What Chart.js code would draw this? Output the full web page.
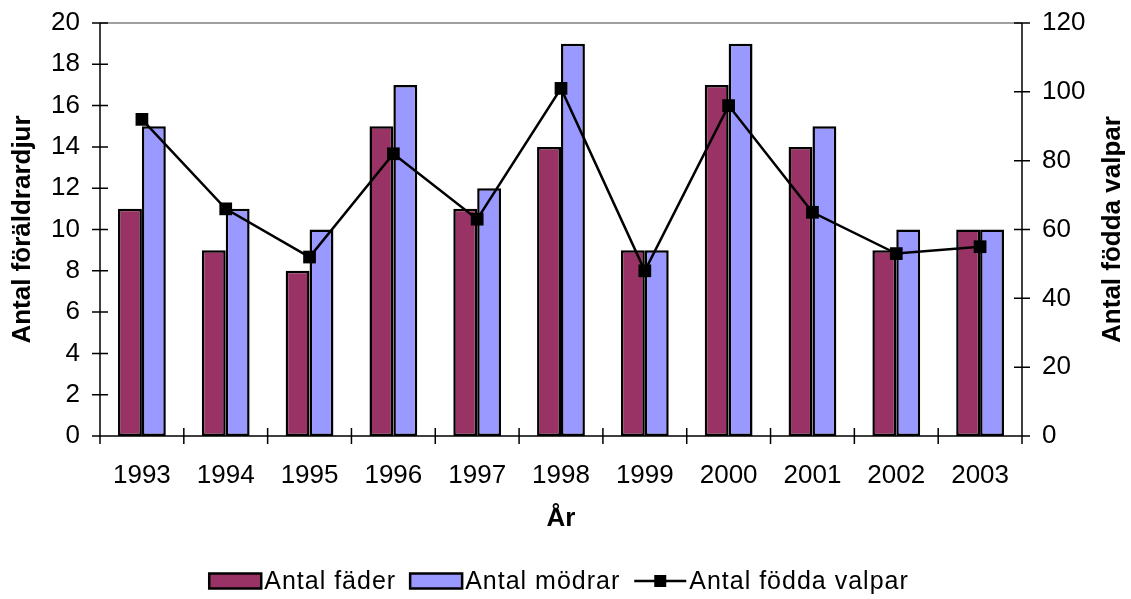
<!DOCTYPE html>
<html>
<head>
<meta charset="utf-8">
<script src="https://cdn.jsdelivr.net/npm/chart.js@4/dist/chart.umd.min.js"></script>
<style>
  html, body { margin: 0; padding: 0; background: #fff; }
  canvas { display: block; }
</style>
</head>
<body>
<canvas id="chart" width="1131" height="599"></canvas>
<script>
const years = ["1993", "1994", "1995", "1996", "1997", "1998", "1999", "2000", "2001", "2002", "2003"];
const fathers = [11, 9, 8, 15, 11, 14, 9, 17, 14, 9, 10];
const mothers = [15, 11, 10, 17, 12, 19, 9, 19, 15, 10, 10];
const puppies = [92, 66, 52, 82, 63, 101, 48, 96, 65, 53, 55];

const FONT = "'Liberation Sans', Arial, sans-serif";
const rightTitle = "Antal födda valpar";

// axis lines, crossing tick marks, right title and legend like the old office chart
const axisFrame = {
  id: "axisFrame",
  beforeDatasetsDraw(chart) {
    const { ctx, chartArea: a } = chart;
    ctx.save();
    ctx.lineWidth = 1.5;
    ctx.strokeStyle = "#808080";
    ctx.beginPath();
    ctx.moveTo(a.left, a.top);
    ctx.lineTo(a.right, a.top);
    ctx.stroke();
    ctx.restore();
  },
  afterDatasetsDraw(chart) {
    const { ctx, chartArea: a, scales } = chart;
    ctx.save();
    ctx.strokeStyle = "#000";
    ctx.lineWidth = 1.5;
    ctx.beginPath();
    ctx.moveTo(a.left, a.top); ctx.lineTo(a.left, a.bottom);
    ctx.moveTo(a.right, a.top); ctx.lineTo(a.right, a.bottom);
    ctx.moveTo(a.left, a.bottom); ctx.lineTo(a.right, a.bottom);
    scales.y.ticks.forEach((t) => {
      const py = scales.y.getPixelForValue(t.value);
      ctx.moveTo(a.left - 8, py); ctx.lineTo(a.left + 8, py);
    });
    scales.y1.ticks.forEach((t) => {
      const py = scales.y1.getPixelForValue(t.value);
      ctx.moveTo(a.right - 8, py); ctx.lineTo(a.right + 8, py);
    });
    const x = scales.x;
    const half = (x.getPixelForValue(1) - x.getPixelForValue(0)) / 2;
    for (let i = 0; i <= years.length; i++) {
      const px = x.getPixelForValue(i) - half;
      ctx.moveTo(px, a.bottom - 8); ctx.lineTo(px, a.bottom + 8);
    }
    ctx.stroke();
    ctx.restore();
  },
  afterDraw(chart) {
    const { ctx, chartArea: a } = chart;
    const ds = chart.data.datasets;
    ctx.save();

    // right axis title reads bottom-to-top, same as the left one
    ctx.font = "bold 26px " + FONT;
    ctx.fillStyle = "#000";
    ctx.textAlign = "center";
    ctx.textBaseline = "middle";
    ctx.translate(1113, (a.top + a.bottom) / 2);
    ctx.rotate(-Math.PI / 2);
    ctx.fillText(rightTitle, 0, 0);
    ctx.setTransform(1, 0, 0, 1, 0, 0);

    ctx.font = "25px " + FONT;
    ctx.letterSpacing = "1px";
    ctx.textBaseline = "middle";
    ctx.textAlign = "left";
    const cy = 581;
    const boxW = 52, boxH = 15;
    const widths = ds.map((d) => boxW + 3 + ctx.measureText(d.label).width);
    const gap = 14;
    const total = widths.reduce((s, w) => s + w, 0) + gap * (ds.length - 1);
    let x0 = 559 - total / 2;
    ds.forEach((d, i) => {
      if (d.type === "line") {
        ctx.strokeStyle = "#000";
        ctx.lineWidth = 2.5;
        ctx.beginPath();
        ctx.moveTo(x0, cy); ctx.lineTo(x0 + boxW, cy);
        ctx.stroke();
        ctx.fillStyle = "#000";
        ctx.fillRect(x0 + boxW / 2 - 6, cy - 6, 12, 12);
      } else {
        ctx.fillStyle = d.backgroundColor;
        ctx.fillRect(x0, cy - boxH / 2, boxW, boxH);
        ctx.strokeStyle = "#000";
        ctx.lineWidth = 2.5;
        ctx.strokeRect(x0, cy - boxH / 2, boxW, boxH);
      }
      ctx.fillStyle = "#000";
      ctx.fillText(d.label, x0 + boxW + 3, cy + 1);
      x0 += widths[i] + gap;
    });
    ctx.restore();
  },
};

function fixLeft(s) { s.width = 100; s.paddingTop = 0; s.paddingBottom = 0; }
function fixRight(s) { s.width = 109; s.paddingTop = 0; s.paddingBottom = 0; }

new Chart(document.getElementById("chart"), {
  type: "bar",
  data: {
    labels: years,
    datasets: [
      {
        label: "Antal fäder",
        data: fathers,
        backgroundColor: "#993366",
        borderColor: "#000",
        borderWidth: 2.5,
        borderSkipped: false,
        yAxisID: "y",
        order: 2,
      },
      {
        label: "Antal mödrar",
        data: mothers,
        backgroundColor: "#9999FF",
        borderColor: "#000",
        borderWidth: 2.5,
        borderSkipped: false,
        yAxisID: "y",
        order: 2,
      },
      {
        type: "line",
        label: "Antal födda valpar",
        data: puppies,
        borderColor: "#000",
        backgroundColor: "#000",
        borderWidth: 2.5,
        tension: 0,
        pointStyle: "rect",
        pointRadius: 9,
        pointBorderWidth: 0,
        yAxisID: "y1",
        order: 0,
      },
    ],
  },
  options: {
    responsive: false,
    devicePixelRatio: 1,
    animation: false,
    layout: { padding: { top: 23, bottom: 63, left: 0, right: 0 } },
    datasets: { bar: { categoryPercentage: 0.57, barPercentage: 1.0 } },
    plugins: {
      legend: { display: false },
      tooltip: { enabled: false },
    },
    scales: {
      x: {
        grid: { display: false, drawTicks: false },
        border: { display: false },
        ticks: { color: "#000", font: { size: 26, family: FONT }, padding: 24, maxRotation: 0 },
        title: { display: true, text: "År", color: "#000", font: { size: 26, weight: "bold", family: FONT }, padding: { top: 0, bottom: 2 } },
        afterFit(s) { s.height = 100; s.paddingLeft = 0; s.paddingRight = 0; },
      },
      y: {
        position: "left",
        min: 0,
        max: 20,
        grid: { display: false, drawTicks: false },
        border: { display: false },
        ticks: { stepSize: 2, color: "#000", font: { size: 26, family: FONT }, padding: 20 },
        title: { display: true, text: "Antal föräldrardjur", color: "#000", font: { size: 26, weight: "bold", family: FONT }, padding: { top: 7, bottom: 0 } },
        afterFit: fixLeft,
      },
      y1: {
        position: "right",
        min: 0,
        max: 120,
        grid: { display: false, drawTicks: false },
        border: { display: false },
        ticks: { stepSize: 20, color: "#000", font: { size: 26, family: FONT }, padding: 20 },
        afterFit: fixRight,
      },
    },
  },
  plugins: [axisFrame],
});
</script>
</body>
</html>
